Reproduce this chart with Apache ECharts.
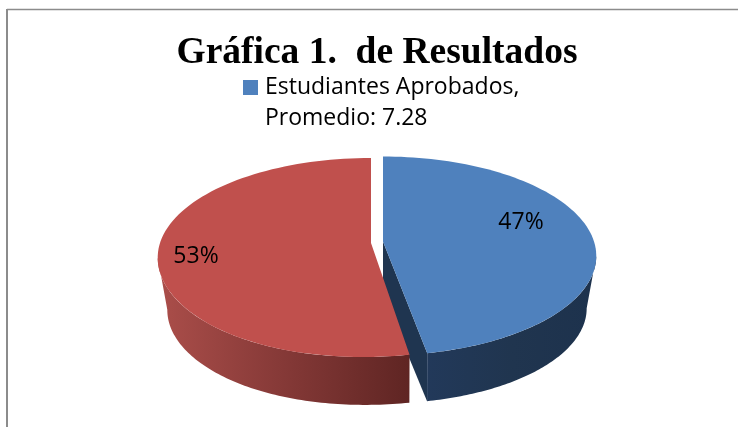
<!DOCTYPE html>
<html><head><meta charset="utf-8">
<style>html,body{margin:0;padding:0;background:#fff}#c{width:738px;height:427px}</style>
<script src="https://cdn.jsdelivr.net/npm/echarts@6/dist/echarts.min.js"></script>
</head><body><div id="c"></div>
<script>
const titleText = 'Gráfica 1.  de Resultados';
const legendLine1 = 'Estudiantes Aprobados,';
const legendLine2 = 'Promedio: 7.28';
const sliceNames = ['Estudiantes Aprobados', 'Estudiantes Reprobados'];
const sliceValues = [47, 53];
const sliceColors = ['#4f81bd', '#c0504d'];

// Projection of a tilted, perspective disc; each slice is pulled out sideways
const CENTER = {x: 377, y: 242.25};
const PULL = [[6, -0.75], [-6, 0.75]];
const FRONT_PULL = [2, 8];
const LOW_FRONT_RELIEF = 2;
const RX = 211, RY = 97.4, K = 0.1457, SCALE_LOW = 0.955, DEPTH = 53;
const LABEL_OFFSET = [[138, -19], [-175, 13]];
const wallFills = [
  {type:'linear',x:0,y:0,x2:1,y2:0,colorStops:[{offset:0,color:'#22395a'},{offset:0.5,color:'#20354f'},{offset:1,color:'#1d324d'}]},
  {type:'linear',x:0,y:0,x2:1,y2:0,colorStops:[{offset:0,color:'#ab4e4a'},{offset:0.5,color:'#853937'},{offset:1,color:'#5f2523'}]}
];
const cutFill = '#1f3550';

const total = sliceValues.reduce((a,b)=>a+b,0);
function project(u, v, low, idx) {
  const d = 1 - K * v;
  const s = low ? SCALE_LOW : 1;
  const pull = FRONT_PULL[idx] - (low ? LOW_FRONT_RELIEF : 0);
  const front = v > 0 ? Math.pow(v, 3) * pull : 0;
  return [CENTER.x + PULL[idx][0] + s * RX * u / d - front,
          CENTER.y + PULL[idx][1] + (low ? DEPTH : 0) + s * RY * v / d];
}
function arcPts(a0, a1, low, idx) {
  const pts = [], n = 90;
  for (let i = 0; i <= n; i++) {
    const t = (a0 + (a1 - a0) * i / n) * Math.PI / 180;
    pts.push(project(Math.sin(t), -Math.cos(t), low, idx));
  }
  return pts;
}
// angle of the disc's widest point on each side
const WIDE = Math.acos(K) * 180 / Math.PI;
function renderSlice(idx, start, end) {
  const topArc = arcPts(start, end, false, idx);
  const apexT = project(0, 0, false, idx), apexL = project(0, 0, true, idx);
  const children = [];
  // visible outer wall only: between the silhouette point and the front cut
  const wallA = idx === 0 ? 180 - WIDE : start;
  const wallB = idx === 1 ? 180 + WIDE : end;
  const wallTop = arcPts(wallA, wallB, false, idx);
  const wallLow = arcPts(wallA, wallB, true, idx);
  if (idx === 0) {
    const c = topArc[topArc.length - 1], cl = wallLow[wallLow.length - 1];
    children.push({type:'polygon', shape:{points:[apexT, c, cl, apexL]}, style:{fill:cutFill}});
  }
  children.push({type:'polygon', shape:{points: wallTop.concat(wallLow.slice().reverse())}, style:{fill:wallFills[idx]}});
  children.push({type:'polygon', shape:{points:[apexT].concat(topArc)}, style:{fill:sliceColors[idx]}});
  const lp = LABEL_OFFSET[idx];
  children.push({type:'text', style:{text: Math.round(sliceValues[idx] / total * 100) + '%',
    x: apexT[0] + lp[0], y: apexT[1] + lp[1], align:'center', verticalAlign:'middle',
    font:'23px "Open Sans"', fill:'#000'}});
  return {type:'group', children};
}

let acc = 0;
const series = sliceValues.map((v, i) => {
  const start = acc / total * 360; acc += v;
  const end = acc / total * 360;
  return {type:'custom', name: i === 0 ? legendLine1 : sliceNames[i], coordinateSystem:'none', silent:true, z: 2 + i,
    data:[[v]], animation:false, itemStyle:{color:sliceColors[i]},
    renderItem: () => renderSlice(i, start, end)};
});

const chart = echarts.init(document.getElementById('c'), null, {renderer:'canvas'});
chart.setOption({
  animation:false,
  backgroundColor:'#fff',
  title:[
    {text:titleText, left:372, top:29, textAlign:'center', textStyle:{fontFamily:'"Liberation Serif"', fontWeight:'bold', fontSize:37.5, color:'#000'}},
    {text:legendLine2, left:260, top:102, textStyle:{fontFamily:'"Open Sans"', fontWeight:'normal', fontSize:23, color:'#000'}}
  ],
  legend:{data:[{name:legendLine1, icon:'rect', itemStyle:{color:sliceColors[0]}}], left:238, top:71, itemWidth:15, itemHeight:15,
    selectedMode:false, textStyle:{fontFamily:'"Open Sans"', fontSize:23, color:'#000', padding:[0,0,0,2]}},
  graphic:[
    {type:'line', shape:{x1:7, y1:9.5, x2:738, y2:9.5}, style:{stroke:'#8c8c8c', lineWidth:1.5}, silent:true},
    {type:'line', shape:{x1:7, y1:9, x2:7, y2:427}, style:{stroke:'#8c8c8c', lineWidth:2}, silent:true}
  ],
  series
});
</script></body></html>
